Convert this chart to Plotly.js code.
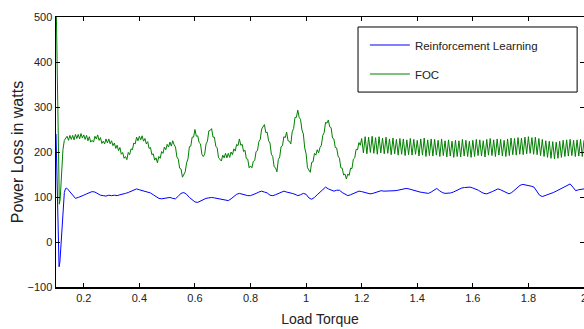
<!DOCTYPE html>
<html>
<head>
<meta charset="utf-8">
<script src="https://cdn.plot.ly/plotly-3.0.1.min.js"></script>
<style>html,body{margin:0;padding:0;background:#fff;}#chart{width:584px;height:329px;}</style>
</head>
<body>
<div id="chart"></div>
<script>
// ---- Data ----
const seriesNames = ["Reinforcement Learning", "FOC"];

// Reinforcement Learning: start-up transient (explicit x)
const rlTransX = [0.1, 0.103, 0.106, 0.109, 0.111, 0.114, 0.118, 0.122, 0.126, 0.13, 0.134, 0.137];
const rlTransY = [240, 150, 40, -40, -55, -45, 0, 50, 90, 110, 118, 120];
// Reinforcement Learning: sampled every 0.01 from 0.14
const rlStart = 0.14, rlStep = 0.01;
const rlY = [
 119,112,104,97,99,101,104,107,110,112,
 111,108,104,103,102,104,103,104,103,105,
 106,108,110,113,116,118,116,114,112,111,
 109,105,101,97,96,97,99,99,97,96,
 102,108,110,106,99,94,89,88,91,95,
 97,98,99,98,97,96,95,93,92,96,
 101,106,108,106,105,103,103,105,108,111,
 113,111,109,104,103,105,108,111,113,111,
 110,108,106,103,105,108,106,98,95,99,
 105,111,117,122,118,115,113,115,115,110,
 106,103,105,108,111,113,112,110,108,107,
 108,110,112,114,113,113,113,114,114,115,
 116,117,119,118,116,114,112,111,110,109,
 108,111,116,119,114,110,108,108,109,111,
 114,118,120,121,121,122,120,118,115,111,
 108,107,109,112,115,118,116,113,110,107,
 110,115,121,126,128,127,125,124,122,112,
 104,101,103,105,108,110,113,116,119,122,
 125,129,122,114,116,117,118
];

// FOC: start-up transient (explicit x)
const focTransX = [0.1, 0.102, 0.104, 0.106, 0.108, 0.11, 0.112, 0.115, 0.118, 0.121, 0.125, 0.13, 0.135];
const focTransY = [560, 480, 380, 280, 180, 100, 84, 95, 130, 170, 205, 226, 230];
// FOC: sampled every 0.005 from 0.14 to 1.195 (noisy)
const focStart = 0.14, focStep = 0.005;
const focY = [
 235,226,237,228,237,227,239,230,239,229,
 241,231,238,228,237,225,234,222,226,222,
 235,229,238,226,232,219,224,218,229,220,
 229,218,225,214,220,208,215,203,210,195,
 199,186,190,183,199,194,207,205,220,218,
 233,225,235,227,236,224,230,218,223,208,
 210,194,196,182,187,176,190,186,201,197,
 211,205,217,211,222,213,225,216,211,189,
 184,164,162,144,152,156,176,185,212,213,
 233,233,250,235,236,221,218,195,190,195,
 218,224,247,248,252,233,233,213,209,187,
 184,180,193,187,197,187,197,188,200,194,
 207,202,217,214,229,215,217,201,204,185,
 184,165,169,165,179,181,201,203,223,228,
 251,256,261,243,244,225,220,195,190,167,
 165,156,183,189,212,214,234,232,244,225,
 224,218,245,252,277,277,293,277,272,249,
 240,209,196,165,159,155,177,178,197,193,
 205,198,210,215,237,243,266,264,271,256,
 254,231,229,210,209,191,186,165,164,149,
 151,140,151,148,164,163,184,187,206,205,
 221,215
];
// FOC: ripple region, peaks and troughs every 0.00625 from 1.2
const focRipStart = 1.2, focRipStep = 0.00625;
const focRipY = [
 230,198,234,196,233,199,235,197,232,195,234,198,231,196,233,197,
 229,194,231,196,228,193,230,195,229,192,227,194,230,193,228,195,
 226,191,229,193,231,190,227,192,229,191,228,193,226,190,229,192,
 225,189,227,191,224,188,226,190,225,189,228,191,226,190,224,188,
 226,190,228,192,227,191,225,189,228,193,230,192,227,190,229,193,
 228,191,226,190,229,192,231,194,230,193,232,195,231,194,233,196,
 234,197,232,195,233,194,230,192,228,190,225,188,224,186,223,185,
 222,186,224,188,226,190,227,191,228,192,226,190,227,191,228,190,226
];

const xTickVals = [0.2, 0.4, 0.6, 0.8, 1.0, 1.2, 1.4, 1.6, 1.8, 2.0];
const xTickText = ["0.2", "0.4", "0.6", "0.8", "1", "1.2", "1.4", "1.6", "1.8", "2"];
const yTickVals = [-100, 0, 100, 200, 300, 400, 500];

// ---- Build traces ----
function sampled(start, step, ys) { return ys.map((_, i) => +(start + i * step).toFixed(5)); }

const rlX = rlTransX.concat(sampled(rlStart, rlStep, rlY));
const rlAll = rlTransY.concat(rlY);
const focX = focTransX.concat(sampled(focStart, focStep, focY), sampled(focRipStart, focRipStep, focRipY));
const focAll = focTransY.concat(focY, focRipY);

const font = "Liberation Sans, Arial, sans-serif";

const traces = [
  {x: rlX, y: rlAll, name: seriesNames[0], type: "scatter", mode: "lines",
   line: {color: "#0000ff", width: 1}, legendgroup: "a"},
  {x: focX, y: focAll, name: seriesNames[1], type: "scatter", mode: "lines",
   line: {color: "#008000", width: 1}, legendgroup: "b"}
];

const axisCommon = {
  showline: true, linecolor: "#000", linewidth: 1.5, mirror: "ticks",
  ticks: "inside", ticklen: 4, tickcolor: "#000", tickwidth: 1,
  showgrid: false, zeroline: false, ticklabeloverflow: "allow",
  tickfont: {family: font, size: 11, color: "#222"}
};

const layout = {
  width: 584, height: 329,
  margin: {l: 56, r: 0, t: 17, b: 42},
  paper_bgcolor: "#fff", plot_bgcolor: "#fff",
  showlegend: true,
  xaxis: Object.assign({}, axisCommon, {
    range: [0.1, 2.0], tickmode: "array", tickvals: xTickVals, ticktext: xTickText,
    title: {text: "Load Torque", font: {family: font, size: 14, color: "#222"}, standoff: 11}
  }),
  yaxis: Object.assign({}, axisCommon, {
    range: [-100, 500], tickmode: "array", tickvals: yTickVals,
    title: {text: "Power Loss in watts", font: {family: font, size: 16, color: "#222"}, standoff: 0}
  }),
  legend: {
    x: 0.585, y: 0.95, xanchor: "left", yanchor: "top",
    bgcolor: "rgba(0,0,0,0)", borderwidth: 0,
    font: {family: font, size: 11.5, color: "#222"},
    tracegroupgap: 10, itemwidth: 40
  },
  shapes: [
    {type: "rect", xref: "paper", yref: "paper",
     x0: 0.572, x1: 0.987, y0: 0.722, y1: 0.963,
     line: {color: "#000", width: 1}, fillcolor: "#fff", layer: "above"}
  ]
};

Plotly.newPlot("chart", traces, layout, {displayModeBar: false, staticPlot: true});
</script>
</body>
</html>
